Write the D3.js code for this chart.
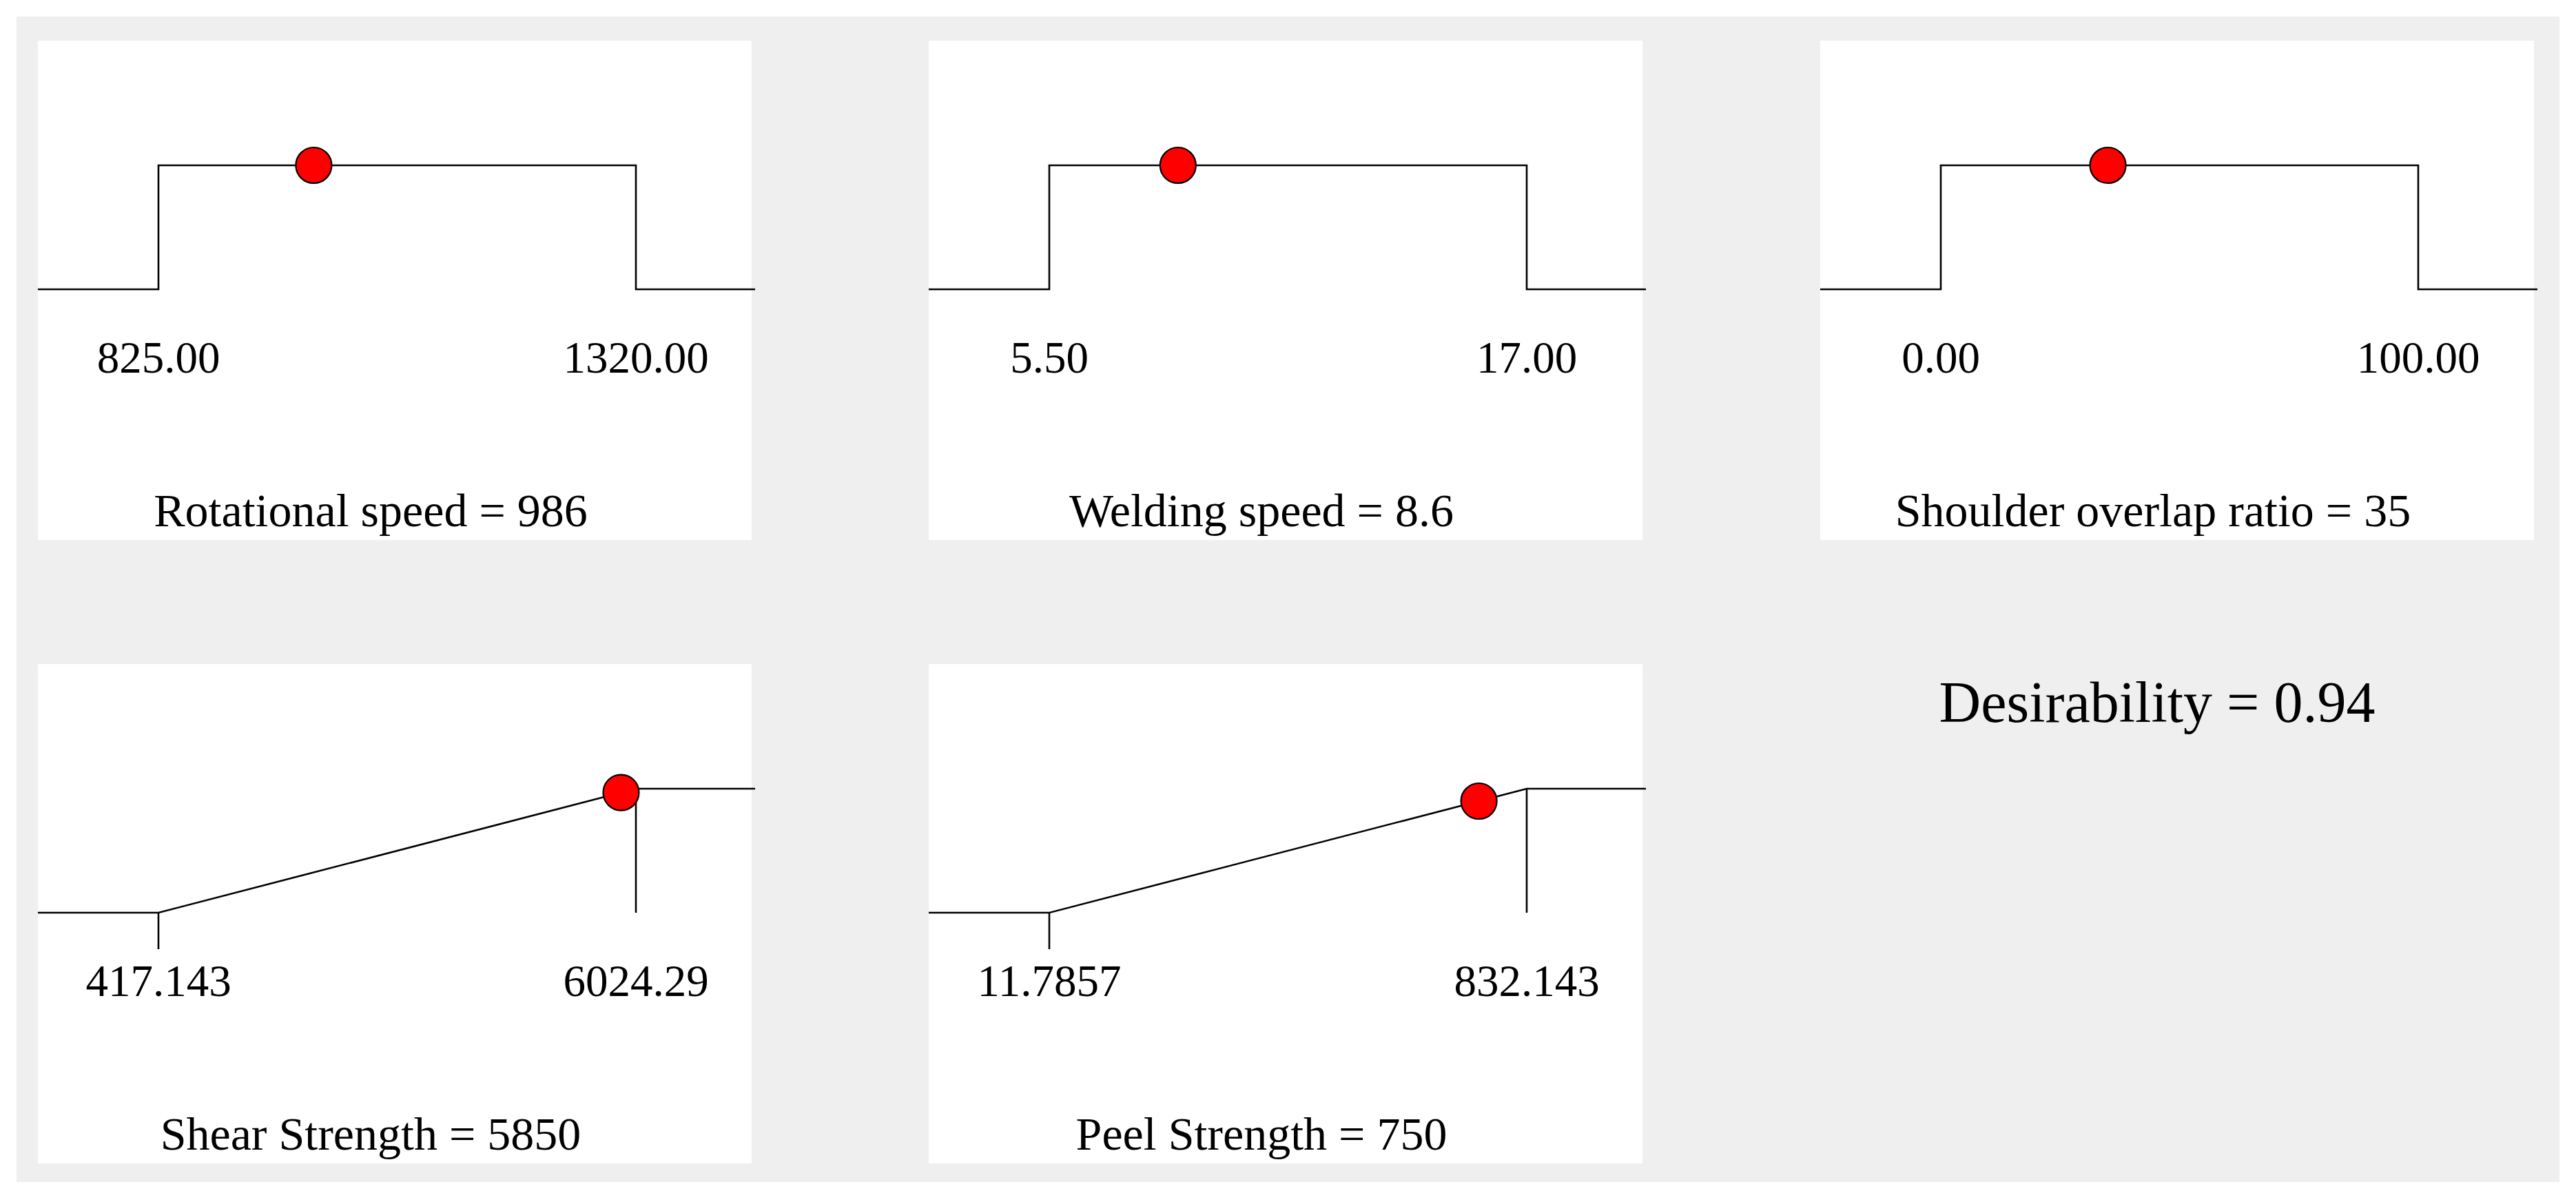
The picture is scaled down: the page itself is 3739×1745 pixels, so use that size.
<!DOCTYPE html>
<html>
<head>
<meta charset="utf-8">
<script src="https://cdn.jsdelivr.net/npm/d3@7"></script>
<style>
  html, body { margin: 0; padding: 0; background: #ffffff; }
  svg { display: block; }
  text { font-family: "Liberation Serif", "DejaVu Serif", serif; fill: #000; }
</style>
</head>
<body>
<script>
// ---------- data ----------
const factorNames = ["Rotational speed", "Welding speed", "Shoulder overlap ratio"];
const factorLows = [825, 5.5, 0];
const factorHighs = [1320, 17, 100];
const factorValues = [986, 8.6, 35];
const factorLowLabels = ["825.00", "5.50", "0.00"];
const factorHighLabels = ["1320.00", "17.00", "100.00"];
const factorValueLabels = ["986", "8.6", "35"];

const responseNames = ["Shear Strength", "Peel Strength"];
const responseLows = [417.143, 11.7857];
const responseHighs = [6024.29, 832.143];
const responseValues = [5850, 750];
const responseLowLabels = ["417.143", "11.7857"];
const responseHighLabels = ["6024.29", "832.143"];
const responseValueLabels = ["5850", "750"];

const desirabilityValue = "0.94";

// ---------- layout ----------
const W = 3739, H = 1745;
const panelW = 1036, panelH = 725;
const colX = [55, 1348, 2642];
const rowY = [59, 964];
const plotX0 = 175, plotX1 = 868;   // positions of low/high within panel
const dY0 = 361, dY1 = 181;          // desirability 0 / 1 within panel

const svg = d3.select("body").append("svg").attr("width", W).attr("height", H);
svg.append("rect").attr("x", 0).attr("y", 0).attr("width", W).attr("height", H).attr("fill", "#ffffff");
svg.append("rect").attr("x", 24).attr("y", 24).attr("width", 3715 - 24).attr("height", 1716 - 24).attr("fill", "#efefef");

const yScale = d3.scaleLinear().domain([0, 1]).range([dY0, dY1]);
const line = d3.line();

function drawPanel(px, py, lo, hi, val, loLab, hiLab, title, valLab, type) {
  const g = svg.append("g").attr("transform", `translate(${px},${py})`);
  g.append("rect").attr("width", panelW).attr("height", panelH).attr("fill", "#ffffff");
  const x = d3.scaleLinear().domain([lo, hi]).range([plotX0, plotX1]);
  const left = x.invert(0), right = x.invert(panelW + 5);
  let pts, dVal;
  if (type === "range") {
    pts = [[left, 0], [lo, 0], [lo, 1], [hi, 1], [hi, 0], [right, 0]];
    dVal = 1;
  } else {
    pts = [[left, 0], [lo, 0], [hi, 1], [right, 1]];
    dVal = (val - lo) / (hi - lo);
  }
  g.append("path")
    .attr("d", line(pts.map(p => [x(p[0]), yScale(p[1])])))
    .attr("fill", "none").attr("stroke", "#000").attr("stroke-width", 2.6);
  if (type === "max") {
    // vertical drop at high end, tick at low end
    g.append("line").attr("x1", x(hi)).attr("x2", x(hi)).attr("y1", yScale(1)).attr("y2", yScale(0))
      .attr("stroke", "#000").attr("stroke-width", 2.6);
    g.append("line").attr("x1", x(lo)).attr("x2", x(lo)).attr("y1", yScale(0)).attr("y2", yScale(0) + 53)
      .attr("stroke", "#000").attr("stroke-width", 2.6);
  }
  g.append("circle").attr("cx", x(val)).attr("cy", yScale(dVal)).attr("r", 26)
    .attr("fill", "#ff0000").attr("stroke", "#000").attr("stroke-width", 2.2);
  g.append("text").attr("x", x(lo)).attr("y", 482).attr("text-anchor", "middle")
    .attr("font-size", 65).text(loLab);
  g.append("text").attr("x", x(hi)).attr("y", 482).attr("text-anchor", "middle")
    .attr("font-size", 65).text(hiLab);
  g.append("text").attr("x", panelW / 2 - 35).attr("y", 705).attr("text-anchor", "middle")
    .attr("font-size", 68).text(`${title} = ${valLab}`);
}

factorNames.forEach((n, i) => {
  drawPanel(colX[i], rowY[0], factorLows[i], factorHighs[i], factorValues[i],
    factorLowLabels[i], factorHighLabels[i], n, factorValueLabels[i], "range");
});
responseNames.forEach((n, i) => {
  drawPanel(colX[i], rowY[1], responseLows[i], responseHighs[i], responseValues[i],
    responseLowLabels[i], responseHighLabels[i], n, responseValueLabels[i], "max");
});

svg.append("text").attr("x", 3131).attr("y", 1048).attr("text-anchor", "middle")
  .attr("font-size", 84).text(`Desirability = ${desirabilityValue}`);
</script>
</body>
</html>
